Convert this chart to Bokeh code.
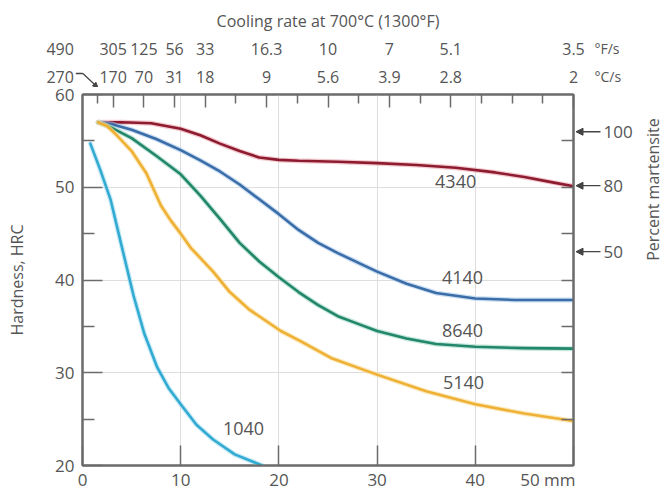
import math
from bokeh.plotting import figure
from bokeh.models import LinearAxis, FixedTicker, Arrow, NormalHead, Range1d
from bokeh.layouts import column, row
from bokeh.embed import file_html
from bokeh.resources import INLINE
from bokeh.core.properties import value

# ---------------- data ----------------
# Jominy distance (mm) vs hardness (HRC)
d4340 = [1.6, 4, 7, 10, 12, 14, 16, 18, 20, 22, 26, 30, 34, 38, 42, 45, 48, 50]
h4340 = [57.0, 57.0, 56.9, 56.3, 55.6, 54.7, 53.9, 53.2, 52.95, 52.85, 52.75, 52.6, 52.4, 52.1, 51.6, 51.1, 50.5, 50.1]

d4140 = [1.6, 3, 5, 7.5, 10, 12, 14, 16, 18, 20, 22, 24, 26, 28, 30, 33, 36, 40, 44, 50]
h4140 = [57.0, 56.8, 56.2, 55.2, 54.0, 52.9, 51.7, 50.3, 48.7, 47.1, 45.4, 44.0, 42.9, 41.9, 40.9, 39.6, 38.6, 38.0, 37.85, 37.85]

d8640 = [1.6, 3, 5, 7.5, 10, 12, 14, 16, 18, 20, 22, 24, 26, 28, 30, 33, 36, 40, 45, 50]
h8640 = [57.0, 56.4, 55.3, 53.4, 51.4, 49.1, 46.6, 44.0, 42.0, 40.3, 38.7, 37.3, 36.1, 35.3, 34.5, 33.7, 33.1, 32.8, 32.65, 32.6]

d5140 = [1.6, 2.5, 3.5, 5, 6.5, 8, 9, 10, 11, 13.3, 15, 17, 20.2, 22.2, 25.3, 30, 35, 40, 45, 50]
h5140 = [57.0, 56.6, 55.6, 53.9, 51.5, 48.0, 46.4, 45.0, 43.5, 40.9, 38.7, 36.8, 34.5, 33.4, 31.6, 29.8, 28.0, 26.6, 25.6, 24.8]

d1040 = [0.8, 1.8, 2.85, 4.0, 5.2, 6.3, 7.6, 8.8, 10, 11.6, 13.3, 15.5, 18.3]
h1040 = [54.7, 51.9, 48.7, 43.6, 38.3, 34.2, 30.6, 28.3, 26.6, 24.4, 22.8, 21.2, 20.0]

steel_names = ["4340", "4140", "8640", "5140", "1040"]
label_dist = [38.0, 38.7, 38.7, 38.8, 16.4]
label_hrc = [50.6, 40.3, 34.6, 29.0, 24.0]

# top scale: cooling rate at 700 C vs distance (in 1/16 in)
rate_dist_16 = [1, 2, 4, 6, 8, 12, 16, 20, 24, 32]
rate_c = ["270", "170", "70", "31", "18", "9", "5.6", "3.9", "2.8", "2"]
rate_f = ["490", "305", "125", "56", "33", "16.3", "10", "7", "5.1", "3.5"]
minor_dist_16 = [10, 14, 18, 22, 26, 28, 30]

# right side: percent martensite vs hardness
martensite_pct = ["100", "80", "50"]
martensite_hrc = [56.4, 50.1, 42.4]

x_ticks = [0, 10, 20, 30, 40, 50]
y_ticks = [20, 30, 40, 50, 60]
y_minor = [25, 35, 45, 55]
right_ticks = [25, 30, 35, 40, 45, 50, 55]

# ---------------- styling / geometry ----------------
FONT = "Open Sans"
TXT = "#555555"
FRAME = "#6b6b6b"
GRID = "#dedede"
ARW = "#444444"
colors = ["#8e1c30", "#3b6ea8", "#22876a", "#efb036", "#33aad2"]
halos = ["#e9a3ae", "#a9c8ea", "#9fd6c2", "#f9dd9a", "#a6e0f2"]

W, H = 662, 493
L, T, B = 82, 94, 24
TOP_H = 87                   # height of the top strip
MAIN_W = 575                 # main figure width (frame right edge at 573)
FW = 491
FH = H - T - B
X0, X1, Y0, Y1 = 0, 50, 20, 60
S16_MAX = 32
ppy = FH / (Y1 - Y0)
pp16 = FW / S16_MAX

# ---------------- main figure ----------------
p = figure(width=MAIN_W, height=H - TOP_H, output_backend="svg", toolbar_location=None,
           x_range=Range1d(X0, X1), y_range=Range1d(Y0, Y1),
           min_border_left=L, min_border_right=MAIN_W - L - FW,
           min_border_top=T - TOP_H, min_border_bottom=B,
           background_fill_color="white", border_fill_color="white")
p.extra_x_ranges = {"s16": Range1d(0, S16_MAX)}
p.outline_line_color = FRAME
p.outline_line_width = 2

p.xgrid.ticker = FixedTicker(ticks=[10, 20, 30, 40])
p.ygrid.ticker = FixedTicker(ticks=[30, 40, 50])
p.grid.grid_line_color = GRID
p.grid.grid_line_width = 1


def style_axis(ax):
    ax.axis_line_color = FRAME
    ax.axis_line_width = 2
    ax.major_tick_line_color = FRAME
    ax.minor_tick_line_color = FRAME
    ax.major_tick_line_width = 1.5
    ax.minor_tick_line_width = 1.5
    ax.major_label_text_font = FONT
    ax.major_label_text_color = TXT
    ax.axis_label_text_font = FONT
    ax.axis_label_text_color = TXT
    ax.axis_label_text_font_style = "normal"


xa = p.xaxis[0]
style_axis(xa)
xa.ticker = FixedTicker(ticks=x_ticks)
xa.major_tick_in = 20
xa.major_tick_out = 0
xa.minor_tick_in = 0
xa.minor_tick_out = 0
xa.major_label_text_font_size = "17px"
xa.major_label_standoff = 2
xa.major_label_overrides = {50: "50 mm"}

ya = p.yaxis[0]
style_axis(ya)
ya.ticker = FixedTicker(ticks=y_ticks, minor_ticks=y_minor)
ya.major_tick_in = 20
ya.major_tick_out = 0
ya.minor_tick_in = 12
ya.minor_tick_out = 0
ya.major_label_text_font_size = "17px"
ya.major_label_standoff = 8
ya.axis_label = "Hardness, HRC"
ya.axis_label_text_font_size = "16px"
ya.axis_label_standoff = 24


def ticks_only(ax):
    ax.major_label_text_color = None
    ax.major_label_text_font_size = "6px"
    ax.major_label_standoff = 0
    ax.major_tick_out = 0
    ax.minor_tick_out = 0


ra = LinearAxis(ticker=FixedTicker(ticks=right_ticks))
style_axis(ra)
ticks_only(ra)
ra.major_tick_in = 12
ra.minor_tick_in = 0
p.add_layout(ra, "right")

ta = LinearAxis(x_range_name="s16",
                ticker=FixedTicker(ticks=rate_dist_16[1:], minor_ticks=[rate_dist_16[0]] + minor_dist_16))
style_axis(ta)
ticks_only(ta)
ta.major_tick_in = 13
ta.minor_tick_in = 9
p.add_layout(ta, "above")

series = [(d4340, h4340), (d4140, h4140), (d8640, h8640), (d5140, h5140), (d1040, h1040)]
for (xs, ys), c, hc in zip(series, colors, halos):
    p.line(xs, ys, line_color=hc, line_width=5, line_alpha=0.6, line_join="round", line_cap="round")
    p.line(xs, ys, line_color=c, line_width=2.6, line_join="round", line_cap="round")

p.text(x=label_dist, y=label_hrc, text=steel_names, text_font=value(FONT),
       text_font_size="18px", text_color=TXT, text_align="center", text_baseline="middle")

# ---------------- top strip (cooling-rate scale) ----------------
pt = figure(width=W, height=TOP_H, output_backend="svg", toolbar_location=None,
            x_range=Range1d(-L / pp16, S16_MAX + (W - L - FW) / pp16),
            y_range=Range1d(TOP_H, 0),
            x_axis_location=None, y_axis_location=None, min_border=0,
            background_fill_color="white", border_fill_color="white")
pt.outline_line_color = None
pt.grid.visible = False

ROW_TITLE, ROW_F, ROW_C = 20, 48, 76
txt_kw = dict(text_font=value(FONT), text_color=TXT, text_baseline="middle")
pt.text(x=[S16_MAX / 2], y=[ROW_TITLE], text=["Cooling rate at 700\u00b0C (1300\u00b0F)"],
        text_font_size="16px", text_align="center", **txt_kw)
pt.text(x=rate_dist_16[1:], y=[ROW_F] * (len(rate_dist_16) - 1), text=rate_f[1:],
        text_font_size="16px", text_align="center", **txt_kw)
pt.text(x=rate_dist_16[1:], y=[ROW_C] * (len(rate_dist_16) - 1), text=rate_c[1:],
        text_font_size="16px", text_align="center", **txt_kw)
pt.text(x=[rate_dist_16[0]] * 2, y=[ROW_F, ROW_C], text=[rate_f[0], rate_c[0]], x_offset=-24,
        text_font_size="16px", text_align="right", **txt_kw)
pt.text(x=[S16_MAX] * 2, y=[ROW_F, ROW_C], text=["\u00b0F/s", "\u00b0C/s"], x_offset=21,
        text_font_size="14px", text_align="left", **txt_kw)
# hook arrow from "270" toward the 1/16-in tick
hx = rate_dist_16[0]
pt.line(x=[hx - 22 / pp16, hx - 15 / pp16], y=[73, 73], line_color=ARW, line_width=1.3)
pt.add_layout(Arrow(x_start=hx - 15 / pp16, y_start=73, x_end=hx, y_end=TOP_H,
                    line_color=ARW, line_width=1.3,
                    end=NormalHead(size=5, fill_color=ARW, line_color=ARW)))

# ---------------- right strip (percent martensite) ----------------
RW = W - MAIN_W
pr = figure(width=RW, height=H - TOP_H, output_backend="svg", toolbar_location=None,
            x_range=Range1d(0, RW),
            y_range=Range1d(Y0 - B / ppy, Y1 + (T - TOP_H) / ppy),
            x_axis_location=None, y_axis_location=None, min_border=0,
            background_fill_color="white", border_fill_color="white")
pr.outline_line_color = None
pr.grid.visible = False

for hv in martensite_hrc:
    pr.add_layout(Arrow(x_start=25, y_start=hv, x_end=0.5, y_end=hv,
                        line_color=ARW, line_width=1.3,
                        end=NormalHead(size=7, fill_color=ARW, line_color=ARW)))
pr.text(x=[28] * len(martensite_pct), y=martensite_hrc, text=martensite_pct,
        text_font=value(FONT), text_font_size="17px", text_color=TXT,
        text_align="left", text_baseline="middle")
pr.text(x=[77], y=[49.65], text=["Percent martensite"], angle=math.pi / 2,
        text_font=value(FONT), text_font_size="16px", text_color=TXT,
        text_align="center", text_baseline="middle")

layout = column(pt, row(p, pr, spacing=0), spacing=0)
open("out.html", "w").write(file_html(layout, INLINE))
